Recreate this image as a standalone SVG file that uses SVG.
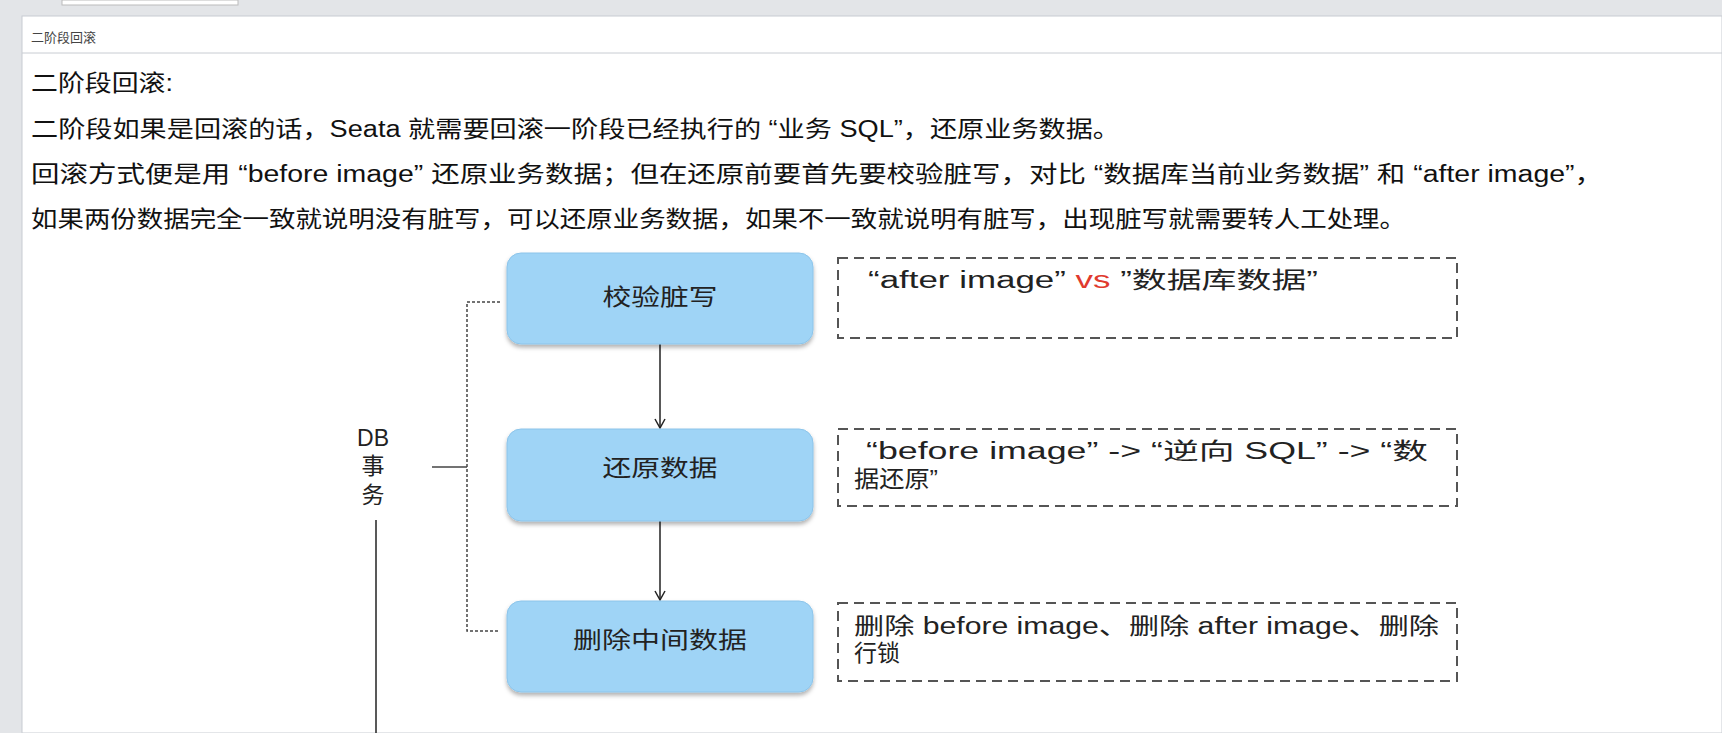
<svg xmlns="http://www.w3.org/2000/svg" width="1722" height="733" viewBox="0 0 1722 733">
<style>
text{font-family:"Liberation Sans","Noto Sans CJK SC",sans-serif;fill:#111}
.p{font-size:23px}
.n{font-size:23px;text-anchor:middle;fill:#222}
.d{font-size:23px;fill:#222}
.box{fill:#9fd4f6;stroke:#8cc4ea;stroke-width:1}
.dash{fill:none;stroke:#555;stroke-width:2;stroke-dasharray:10 6}
</style>
<defs>
<marker id="ar" markerWidth="12" markerHeight="12" refX="10" refY="6" orient="auto" markerUnits="userSpaceOnUse"><path d="M1,1 L10,6 L1,11" fill="none" stroke="#222" stroke-width="1.5"/></marker>
<filter id="sh" x="-10%" y="-10%" width="120%" height="130%"><feDropShadow dx="0" dy="3" stdDeviation="2" flood-color="#000" flood-opacity="0.3"/></filter>
</defs>
<rect width="1722" height="733" fill="#fff"/>
<rect width="1722" height="16" fill="#e3e5e8"/>
<rect x="62" y="0" width="176" height="5" fill="#fff" stroke="#bbb"/>
<rect x="0" y="16" width="22" height="717" fill="#e3e5e8"/>
<rect x="22" y="16" width="1700" height="717" fill="#fff" stroke="#c8ccd2"/>
<text x="31" y="42" style="font-size:13px;fill:#444">二阶段回滚</text>
<line x1="22" y1="53" x2="1722" y2="53" stroke="#c8ccd2"/>
<text class="p" x="31" y="91" textLength="142" lengthAdjust="spacingAndGlyphs">二阶段回滚:</text>
<text class="p" x="31" y="137" textLength="1089" lengthAdjust="spacingAndGlyphs">二阶段如果是回滚的话，Seata 就需要回滚一阶段已经执行的 “业务 SQL”，还原业务数据。</text>
<text class="p" x="31" y="182" textLength="1572" lengthAdjust="spacingAndGlyphs">回滚方式便是用 “before image” 还原业务数据；但在还原前要首先要校验脏写，对比 “数据库当前业务数据” 和 “after image”，</text>
<text class="p" x="31" y="227" textLength="1375" lengthAdjust="spacingAndGlyphs">如果两份数据完全一致就说明没有脏写，可以还原业务数据，如果不一致就说明有脏写，出现脏写就需要转人工处理。</text>
<g id="connectors" fill="none">
<line x1="660" y1="344" x2="660" y2="428" stroke="#222" stroke-width="1.5" marker-end="url(#ar)"/>
<line x1="660" y1="521" x2="660" y2="600" stroke="#222" stroke-width="1.5" marker-end="url(#ar)"/>
<path d="M500,302 H467 V631 H500" stroke="#444" stroke-width="1.5" stroke-dasharray="3 2"/>
<line x1="432" y1="467" x2="467" y2="467" stroke="#444" stroke-width="1.5"/>
<line x1="376" y1="520" x2="376" y2="733" stroke="#222" stroke-width="1.5"/>
</g>
<g id="db"><text class="d" x="373" y="446" text-anchor="middle">DB</text><text class="d" x="373" y="474" text-anchor="middle">事</text><text class="d" x="373" y="503" text-anchor="middle">务</text></g>
<g id="n1"><rect class="box" x="507" y="253" width="306" height="91" rx="14" filter="url(#sh)"/><text class="n" x="660" y="305" textLength="115" lengthAdjust="spacingAndGlyphs">校验脏写</text></g>
<g id="n2"><rect class="box" x="507" y="429" width="306" height="92" rx="14" filter="url(#sh)"/><text class="n" x="660" y="476" textLength="115" lengthAdjust="spacingAndGlyphs">还原数据</text></g>
<g id="n3"><rect class="box" x="507" y="601" width="306" height="91" rx="14" filter="url(#sh)"/><text class="n" x="660" y="648" textLength="174" lengthAdjust="spacingAndGlyphs">删除中间数据</text></g>
<g id="d1"><rect class="dash" x="838" y="258" width="619" height="80"/><text class="d" x="868" y="288" textLength="450" lengthAdjust="spacingAndGlyphs">“after  image”    <tspan fill="#e03a2e">vs</tspan>  ”数据库数据”</text></g>
<g id="d2"><rect class="dash" x="838" y="429" width="619" height="77"/><text class="d" x="866" y="459" textLength="562" lengthAdjust="spacingAndGlyphs">“before image” -&gt;  “逆向 SQL” -&gt;  “数</text><text class="d" x="854" y="487" textLength="84" lengthAdjust="spacingAndGlyphs">据还原”</text></g>
<g id="d3"><rect class="dash" x="838" y="603" width="619" height="78"/><text class="d" x="854" y="634" textLength="585" lengthAdjust="spacingAndGlyphs">删除 before image、删除 after image、删除</text><text class="d" x="854" y="661">行锁</text></g>
</svg>
